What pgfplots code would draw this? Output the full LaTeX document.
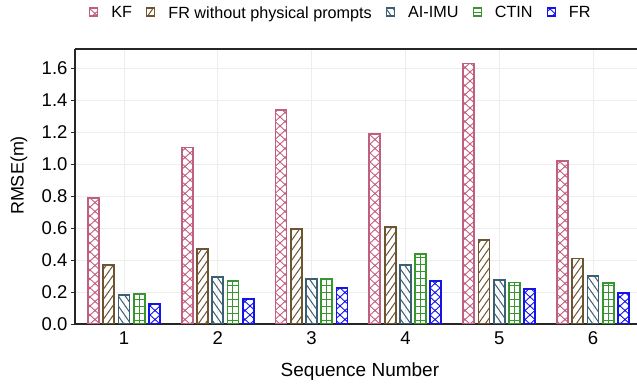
\documentclass[border=0pt]{standalone}
\usepackage{fontspec}
\setmainfont{Liberation Sans}
\usepackage{pgfplots}
\pgfplotsset{compat=1.18}
\usetikzlibrary{patterns}

\definecolor{kfc}{RGB}{192,96,128}
\definecolor{frwc}{RGB}{110,85,50}
\definecolor{aic}{RGB}{60,95,115}
\definecolor{ctc}{RGB}{55,150,45}
\definecolor{frc}{RGB}{20,20,230}

\pgfdeclarepatternformonly{bigcross}{\pgfqpoint{-1pt}{-1pt}}{\pgfqpoint{11pt}{10pt}}{\pgfqpoint{10pt}{9pt}}{%
  \pgfsetlinewidth{0.9pt}%
  \pgfpathmoveto{\pgfqpoint{0pt}{0pt}}\pgfpathlineto{\pgfqpoint{10pt}{9pt}}%
  \pgfpathmoveto{\pgfqpoint{0pt}{9pt}}\pgfpathlineto{\pgfqpoint{10pt}{0pt}}%
  \pgfusepath{stroke}}
\pgfdeclarepatternformonly{nelines}{\pgfqpoint{-1pt}{-1pt}}{\pgfqpoint{8pt}{11pt}}{\pgfqpoint{7pt}{10pt}}{%
  \pgfsetlinewidth{1pt}%
  \pgfpathmoveto{\pgfqpoint{0pt}{0pt}}\pgfpathlineto{\pgfqpoint{7pt}{10pt}}%
  \pgfusepath{stroke}}
\pgfdeclarepatternformonly{nwlines}{\pgfqpoint{-1pt}{-1pt}}{\pgfqpoint{8pt}{11pt}}{\pgfqpoint{7pt}{10pt}}{%
  \pgfsetlinewidth{1pt}%
  \pgfpathmoveto{\pgfqpoint{0pt}{10pt}}\pgfpathlineto{\pgfqpoint{7pt}{0pt}}%
  \pgfusepath{stroke}}
\pgfdeclarepatternformonly{hlines}{\pgfqpoint{-1pt}{0pt}}{\pgfqpoint{2pt}{7pt}}{\pgfqpoint{1pt}{7pt}}{%
  \pgfsetlinewidth{1pt}%
  \pgfpathmoveto{\pgfqpoint{-1pt}{3.5pt}}\pgfpathlineto{\pgfqpoint{2pt}{3.5pt}}%
  \pgfusepath{stroke}}

\pgfplotstableread{
x   kf    frw   ai    ct    fr
1   0.786 0.367 0.181 0.187 0.127
2   1.104 0.467 0.296 0.271 0.154
3   1.338 0.596 0.281 0.279 0.227
4   1.188 0.608 0.369 0.437 0.267
5   1.629 0.523 0.275 0.260 0.219
6   1.019 0.410 0.302 0.254 0.194
}\datatab

\begin{document}
\begin{tikzpicture}
\begin{axis}[
  at={(75pt,63pt)}, anchor=south west,
  scale only axis, width=562pt, height=275pt,
  xmin=0.478, xmax=6.469, ymin=0, ymax=1.72,
  axis x line*=box, axis y line*=left,
  axis line style={draw=black!85, line width=1.6pt},
  xtick={1,2,3,4,5,6},
  ytick={0,0.2,0.4,0.6,0.8,1.0,1.2,1.4,1.6},
  grid=major, major grid style={draw=black!7, line width=0.6pt},
  tick align=outside, major tick length=4pt,
  x tick style={draw=none},
  y tick style={draw=black!85, line width=0.8pt},
  /pgf/number format/assume math mode=true,
  yticklabel style={/pgf/number format/fixed, /pgf/number format/fixed zerofill, /pgf/number format/precision=1, font=\fontsize{18.5}{21}\selectfont},
  xticklabel style={font=\fontsize{18.5}{21}\selectfont},
  ylabel={RMSE(m)}, xlabel={Sequence Number},
  every axis y label/.style={at={(axis description cs:-0.0996,0.54)}, anchor=center, rotate=90, font=\fontsize{18}{21}\selectfont},
  every axis x label/.style={at={(axis description cs:0.507,-0.1745)}, anchor=center, font=\fontsize{19}{22}\selectfont},
  ybar, bar width=11pt,
  legend style={at={(axis description cs:0.473,1.131)}, anchor=center, draw=none, fill=none,
    legend columns=-1, font=\fontsize{16.2}{19}\selectfont,
    /tikz/every even column/.append style={column sep=12pt},
    /tikz/every odd column/.append style={column sep=11pt}},
  legend image code/.code={\draw[#1, line width=1.3pt] (0pt,-3pt) rectangle (8pt,5pt);},
]
\addplot[draw=kfc, line width=1.8pt, pattern=bigcross, pattern color=kfc, bar shift=-30.5pt] table[x=x,y=kf]{\datatab};
\addlegendentry{KF}
\addplot[draw=frwc, line width=1.8pt, pattern=nelines, pattern color=frwc, bar shift=-15.2pt] table[x=x,y=frw]{\datatab};
\addlegendentry{FR without physical prompts}
\addplot[draw=aic, line width=1.8pt, pattern=nwlines, pattern color=aic, bar shift=0pt] table[x=x,y=ai]{\datatab};
\addlegendentry{AI-IMU}
\addplot[draw=ctc, line width=1.8pt, pattern=hlines, pattern color=ctc, bar shift=15.2pt] table[x=x,y=ct]{\datatab};
\addlegendentry{CTIN}
\addplot[draw=frc, line width=1.8pt, pattern=bigcross, pattern color=frc, bar shift=30.5pt] table[x=x,y=fr]{\datatab};
\addlegendentry{FR}
\addplot[forget plot, draw=ctc, line width=1pt, bar width=0pt, bar shift=15.2pt] table[x=x,y=ct]{\datatab};
\end{axis}
\pgfresetboundingbox
\path[use as bounding box] (0pt,0pt) rectangle (637pt,387pt);
\end{tikzpicture}
\end{document}
